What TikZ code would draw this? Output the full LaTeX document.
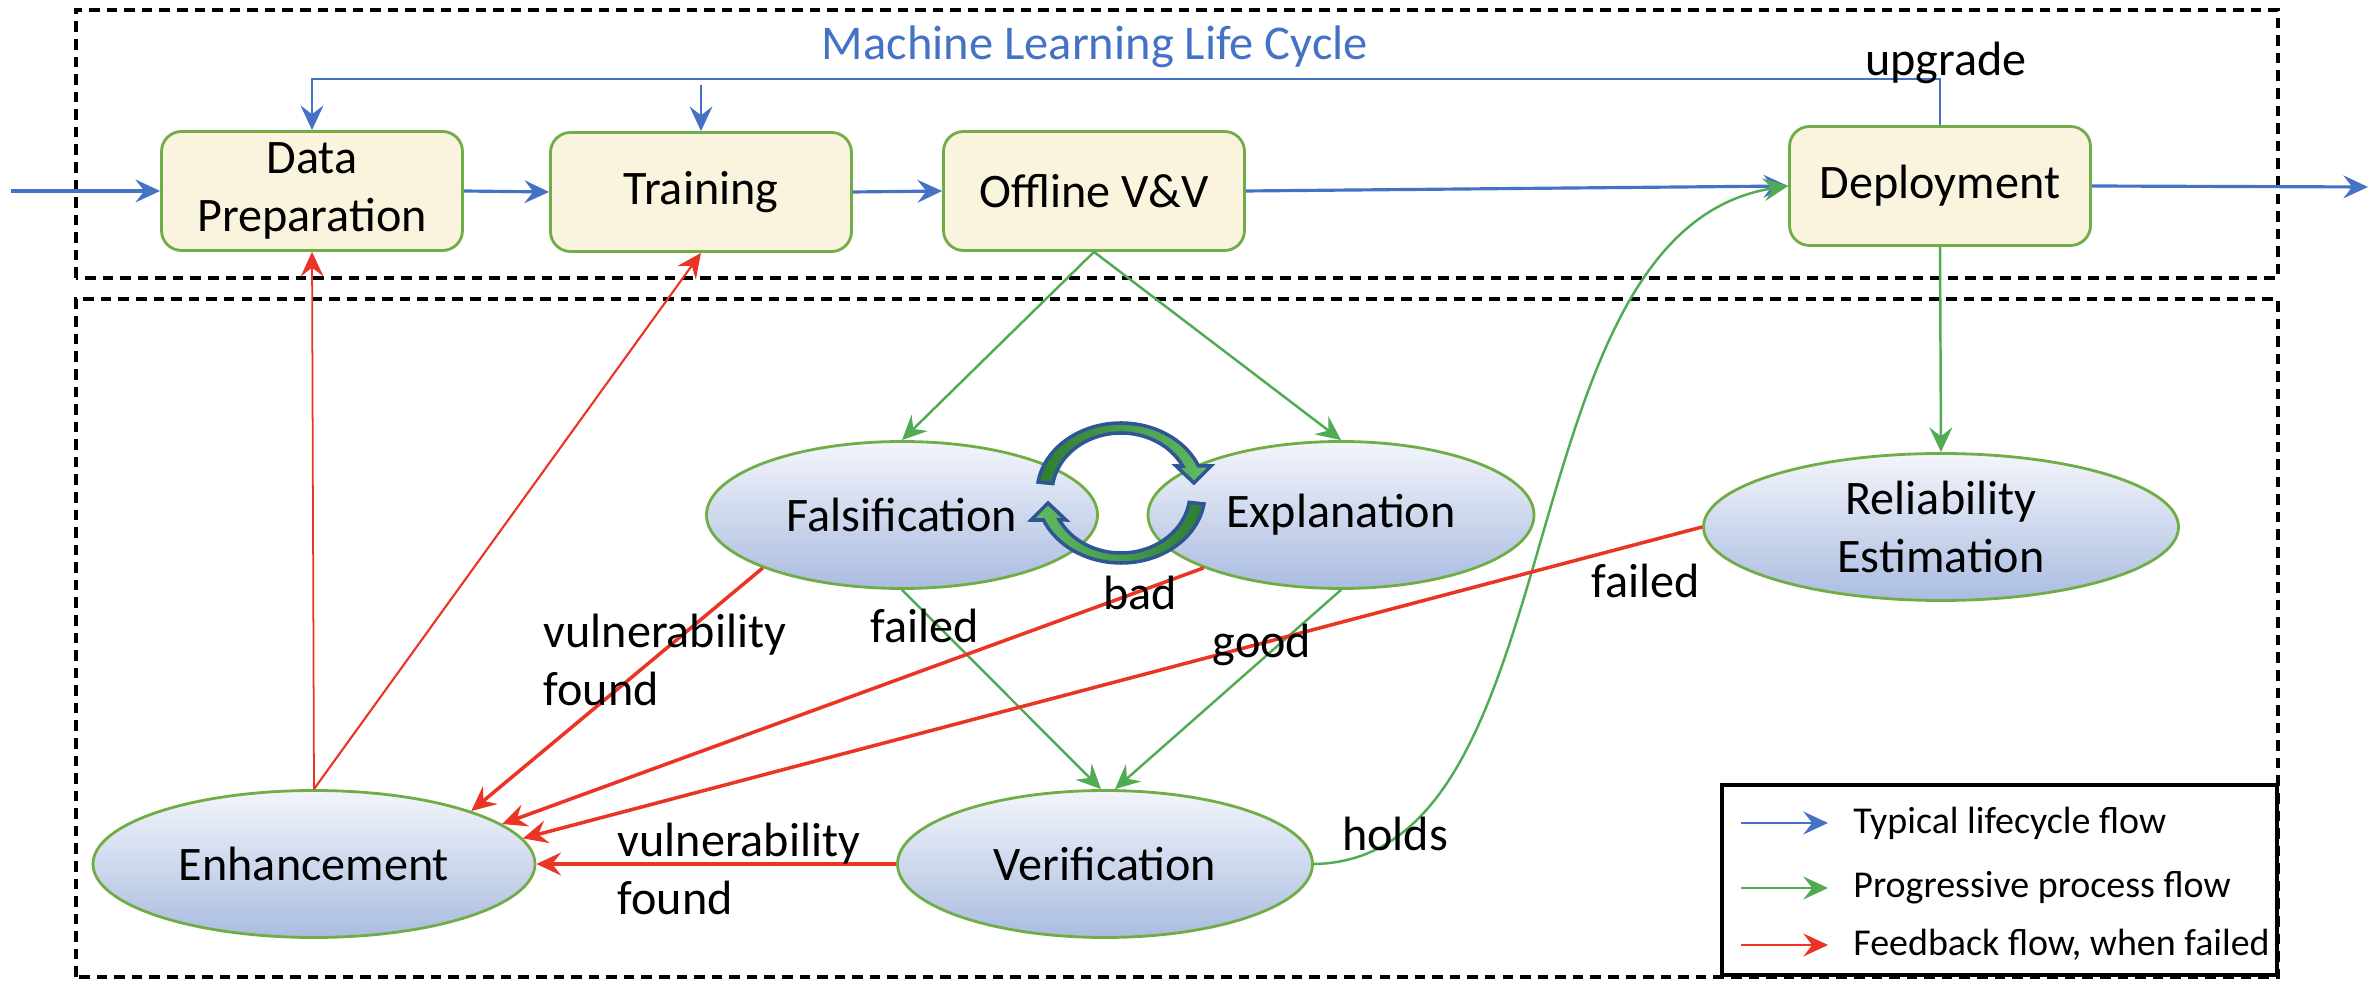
\documentclass[tikz,border=0pt]{standalone}
\usepackage{fontspec}
\setmainfont{Carlito}
\usetikzlibrary{shapes.geometric,arrows.meta}
\definecolor{lcblue}{RGB}{68,114,196}
\definecolor{lcgreen}{RGB}{80,172,82}
\definecolor{lcred}{RGB}{236,52,36}
\definecolor{boxgreen}{RGB}{112,173,71}
\definecolor{boxfill}{RGB}{250,243,222}
\definecolor{elltop}{RGB}{243,245,251}
\definecolor{ellbot}{RGB}{170,188,224}
\definecolor{cycdark}{RGB}{46,125,50}
\definecolor{cyclight}{RGB}{98,188,98}
\definecolor{cycedge}{RGB}{47,85,151}
\tikzset{
	flowtip/.style={-{Stealth[length=7pt,width=6.5pt,inset=2.5pt]}},
	cyclearrow/.style={draw=cycedge, line width=1pt},
	legendtext/.style={anchor=west, text=black, inner sep=0pt, font=\fontsize{10.8}{12}\selectfont},
}
\begin{document}
\begin{tikzpicture}[font=\fontsize{13.7}{16.5}\selectfont]
		\useasboundingbox (0,0) rectangle (23.78,9.90);
		\begin{scope}[dash pattern=on 3pt off 2pt, line width=1pt]
			\draw (0.76,7.12) rectangle (22.78,9.80);
			\draw (0.76,0.13) rectangle (22.78,6.91);
		\end{scope}
		\node (title)[text=lcblue, font=\fontsize{13.8}{16}\selectfont] at (10.95,9.43) {Machine Learning Life Cycle};
		\begin{scope}[every node/.style={draw=boxgreen, fill=boxfill, rounded corners=0.2cm, line width=0.8pt, minimum width=3.01cm, minimum height=1.19cm, align=center, inner sep=1pt}]
			\node (prep) at (3.12,7.99) {Data\\Preparation};
			\node (train) at (7.01,7.98) {Training};
			\node (offline) at (10.94,7.99) {Offline V\&V};
			\node (deploy) at (19.40,8.04) {Deployment};
		\end{scope}
		\begin{scope}[every node/.style={ellipse, draw=boxgreen, line width=0.8pt, top color=elltop, bottom color=ellbot, minimum height=1.47cm, inner sep=0pt, align=center}]
			\node (falsif)[minimum width=3.91cm] at (9.02,4.75) {Falsification};
			\node (explan)[minimum width=3.86cm] at (13.41,4.75) {Explanation};
			\node (reliab)[minimum width=4.75cm] at (19.41,4.63) {Reliability\\Estimation};
			\node (enhance)[minimum width=4.42cm] at (3.14,1.26) {Enhancement};
			\node (verif)[minimum width=4.15cm] at (11.05,1.26) {Verification};
		\end{scope}
		\coordinate (in) at (0.11,7.99);
		\coordinate (out) at (23.68,8.03);
		\coordinate (upcorner) at (19.40,9.11);
		\coordinate (traintop) at (7.01,9.05);
		\begin{scope}[every edge/.style={draw=lcblue, line width=0.9pt}]
			\path [flowtip] (in) edge (prep.west);
			\path [flowtip] (prep.east) edge (train.west);
			\path [flowtip] (train.east) edge (offline.west);
			\path [flowtip] (offline.east) edge (deploy.west);
			\path [flowtip] (deploy.east) edge (out);
		\end{scope}
		\draw [lcblue, line width=0.7pt, flowtip] (deploy.north) -- (upcorner) -| (prep.north);
		\draw [lcblue, line width=0.7pt, flowtip] (traintop) -- (train.north);
		\node (upg) at (19.46,9.27) {upgrade};
		\begin{scope}[every edge/.style={draw=lcgreen, line width=0.7pt}]
			\path [flowtip] (offline.south) edge (falsif.north);
			\path [flowtip] (offline.south) edge (explan.north);
			\path [flowtip] (deploy.south) edge (reliab.north);
			\path [flowtip] (falsif.south) edge ([xshift=-0.04cm]verif.north);
			\path [flowtip] (explan.south) edge ([xshift=0.1cm]verif.north);
		\end{scope}
		\draw [lcgreen, line width=0.7pt, flowtip] (verif.east) .. controls (15.80,1.30) and (15.00,7.60) .. (deploy.west);
		\begin{scope}[every edge/.style={draw=lcred, line width=1pt}]
			\path [flowtip] (enhance.north) edge[line width=0.5pt] (prep.south);
			\path [flowtip] (enhance.north) edge[line width=0.6pt] (train.south);
			\path [flowtip] (falsif.south west) edge (enhance.north east);
			\path [flowtip] (explan.south west) edge (enhance.12);
			\path [flowtip] (reliab.west) edge (enhance.7);
			\path [flowtip] (verif.west) edge[line width=1.3pt] (enhance.east);
		\end{scope}
		\node (vulna)[anchor=west, align=left, inner sep=0pt] at (5.43,3.30) {vulnerability\\found};
		\node (faila) at (9.25,3.64) {failed};
		\node (bad) at (11.40,3.97) {bad};
		\node (good) at (12.62,3.45) {good};
		\node (failb) at (16.46,4.09) {failed};
		\node (holds) at (13.95,1.56) {holds};
		\node (vulnb)[anchor=west, align=left, inner sep=0pt] at (6.17,1.21) {vulnerability\\found};
		\begin{scope}[shift={(11.21,4.97)}]
			\draw [cyclearrow, left color=cycdark, right color=cyclight] (171:0.84 and 0.70) arc[start angle=171, end angle=22.7, x radius=0.84, y radius=0.70] -- (0.90,0.27) -- (0.73,0.10) -- (0.55,0.27) -- (26.7:0.69 and 0.60) arc[start angle=26.7, end angle=171, x radius=0.69, y radius=0.60] -- cycle;
			\draw [cyclearrow, left color=cyclight, right color=cycdark] (-9:0.84 and 0.70) arc[start angle=-9, end angle=-157.3, x radius=0.84, y radius=0.70] -- (-0.90,-0.27) -- (-0.73,-0.10) -- (-0.55,-0.27) -- (-153.3:0.69 and 0.60) arc[start angle=-153.3, end angle=-9, x radius=0.69, y radius=0.60] -- cycle;
		\end{scope}
		\node (legend)[draw, line width=1pt, minimum width=5.55cm, minimum height=1.90cm] at (19.995,1.10) {};
		\coordinate (la) at (17.41,1.67);
		\coordinate (lb) at (17.41,1.02);
		\coordinate (lc) at (17.41,0.45);
		\draw [lcblue, line width=0.8pt, flowtip] (la) -- ++(0.87,0) node (lta)[legendtext, xshift=0.24cm] {Typical lifecycle flow};
		\draw [lcgreen, line width=0.8pt, flowtip] (lb) -- ++(0.87,0) node (ltb)[legendtext, xshift=0.24cm] {Progressive process flow};
		\draw [lcred, line width=0.8pt, flowtip] (lc) -- ++(0.87,0) node (ltc)[legendtext, xshift=0.24cm] {Feedback flow, when failed};
	\end{tikzpicture}
\end{document}
